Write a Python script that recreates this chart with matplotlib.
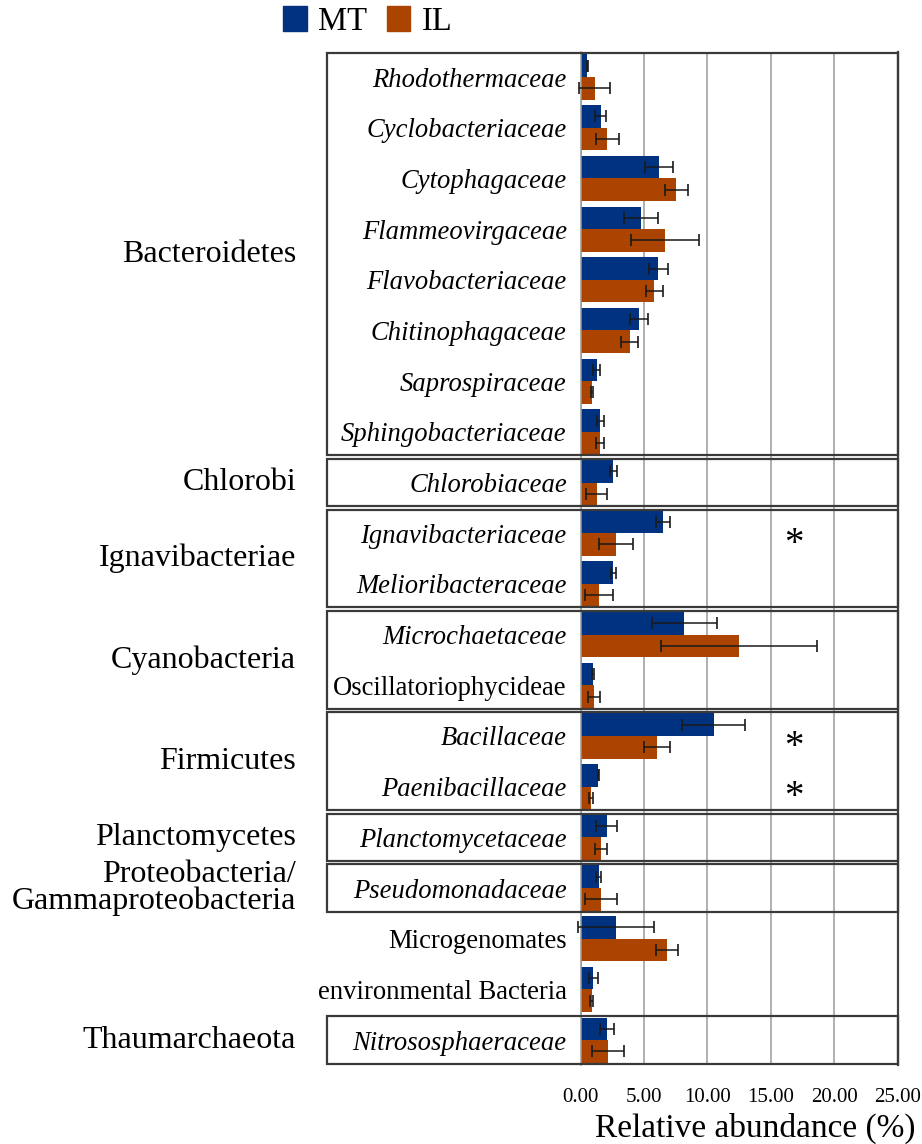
import matplotlib
matplotlib.use("Agg")
import matplotlib.pyplot as plt
import matplotlib.patches as mpatches
import matplotlib.transforms as mtransforms
import numpy as np

plt.rcParams['font.family'] = ['Liberation Serif', 'DejaVu Serif']

# family-level rows, top to bottom
families = ['Rhodothermaceae', 'Cyclobacteriaceae', 'Cytophagaceae', 'Flammeovirgaceae',
            'Flavobacteriaceae', 'Chitinophagaceae', 'Saprospiraceae', 'Sphingobacteriaceae',
            'Chlorobiaceae', 'Ignavibacteriaceae', 'Melioribacteraceae', 'Microchaetaceae',
            'Oscillatoriophycideae', 'Bacillaceae', 'Paenibacillaceae', 'Planctomycetaceae',
            'Pseudomonadaceae', 'Microgenomates', 'environmental Bacteria', 'Nitrososphaeraceae']
italic = [True, True, True, True, True, True, True, True,
          True, True, True, True, False, True, True, True,
          True, False, False, True]

mt = [0.52, 1.57, 6.18, 4.72, 6.13, 4.61, 1.26, 1.55, 2.57, 6.53,
      2.57, 8.18, 1.00, 10.48, 1.39, 2.04, 1.42, 2.78, 1.00, 2.10]
mt_err = [0.06, 0.43, 1.10, 1.34, 0.75, 0.70, 0.26, 0.26, 0.29, 0.55,
          0.20, 2.58, 0.08, 2.49, 0.05, 0.81, 0.22, 3.00, 0.34, 0.54]
il = [1.10, 2.10, 7.55, 6.66, 5.82, 3.88, 0.89, 1.52, 1.26, 2.78,
      1.47, 12.47, 1.07, 6.00, 0.79, 1.60, 1.57, 6.84, 0.86, 2.15]
il_err = [1.25, 0.92, 0.92, 2.69, 0.70, 0.67, 0.07, 0.34, 0.83, 1.34,
          1.11, 6.15, 0.46, 1.02, 0.16, 0.50, 1.26, 0.87, 0.13, 1.28]

# phylum groups
phyla = ['Bacteroidetes', 'Chlorobi', 'Ignavibacteriae', 'Cyanobacteria', 'Firmicutes',
         'Planctomycetes', 'Proteobacteria/\nGammaproteobacteria', '', '', 'Thaumarchaeota']
group_sizes = [8, 1, 2, 2, 2, 1, 1, 1, 1, 1]
boxed = [True, True, True, True, True, True, True, False, False, True]

significant = [9, 13, 14]
star_x = 16.85

c_mt = '#00327F'
c_il = '#AA4400'

fig = plt.figure(figsize=(9.22, 11.44), dpi=100)
ax = fig.add_axes([0.6298, 0.0687, 0.3438, 0.8861])

y = np.arange(len(families))
h = 0.445
ax.barh(y - h / 2, mt, h, color=c_mt, label='MT', zorder=2)
ax.barh(y + h / 2, il, h, color=c_il, label='IL', zorder=2)
ax.errorbar(mt, y - h / 2, xerr=mt_err, fmt='none', ecolor='#1a1a1a',
            elinewidth=1.1, capsize=4.5, capthick=1.2, zorder=3, clip_on=False)
ax.errorbar(il, y + h / 2, xerr=il_err, fmt='none', ecolor='#1a1a1a',
            elinewidth=1.1, capsize=4.5, capthick=1.2, zorder=3, clip_on=False)

ax.set_xlim(0, 25)
ax.set_ylim(len(families) - 0.5, -0.5)
ax.set_xticks(np.arange(0, 26, 5))
ax.set_xticklabels([f'{v:.2f}' for v in np.arange(0, 26, 5)], fontsize=15)
ax.set_yticks(y)
ax.set_yticklabels(families, fontsize=19.2)
for lab, it in zip(ax.get_yticklabels(), italic):
    lab.set_fontstyle('italic' if it else 'normal')
ax.tick_params(axis='both', length=0)
ax.tick_params(axis='y', pad=10)
ax.tick_params(axis='x', pad=16)

ax.grid(axis='x', color='#9a9a9a', linewidth=1.1)
ax.set_axisbelow(True)
ax.spines['left'].set_color('#9a9a9a')
ax.spines['left'].set_linewidth(1.1)
ax.spines['right'].set_color('#404040')
ax.spines['right'].set_linewidth(1.6)
ax.spines['top'].set_visible(False)
ax.spines['bottom'].set_visible(False)

ax.set_xlabel('Relative abundance (%)', fontsize=24)
ax.xaxis.set_label_coords(0.55, -0.047)

# group boxes and phylum names
trans = mtransforms.blended_transform_factory(ax.transAxes, ax.transData)
start = 0
inset = 0.035
for name, n, b in zip(phyla, group_sizes, boxed):
    top = start - 0.5 + inset
    if b:
        rect = mpatches.Rectangle((-0.80, top), 1.80, n - 2 * inset, transform=trans,
                                  fill=False, edgecolor='#3a3a3a', linewidth=1.6,
                                  clip_on=False, zorder=4)
        ax.add_patch(rect)
    if name:
        ax.text(-0.898, start + (n - 1) / 2, name, transform=trans, ha='right',
                va='center', fontsize=23, multialignment='right', linespacing=0.9)
    start += n

for i in significant:
    ax.text(star_x, i + 0.22, '*', ha='center', va='center', fontsize=28)

fig.legend(handles=[mpatches.Patch(color=c_mt, label='MT'),
                    mpatches.Patch(color=c_il, label='IL')],
           loc='upper left', bbox_to_anchor=(0.307, 0.995), ncol=2, frameon=False,
           fontsize=23.5, handlelength=0.72, handleheight=0.8, handletextpad=0.35,
           columnspacing=0.6, borderaxespad=0, borderpad=0)

fig.savefig('out.png', dpi=100)
